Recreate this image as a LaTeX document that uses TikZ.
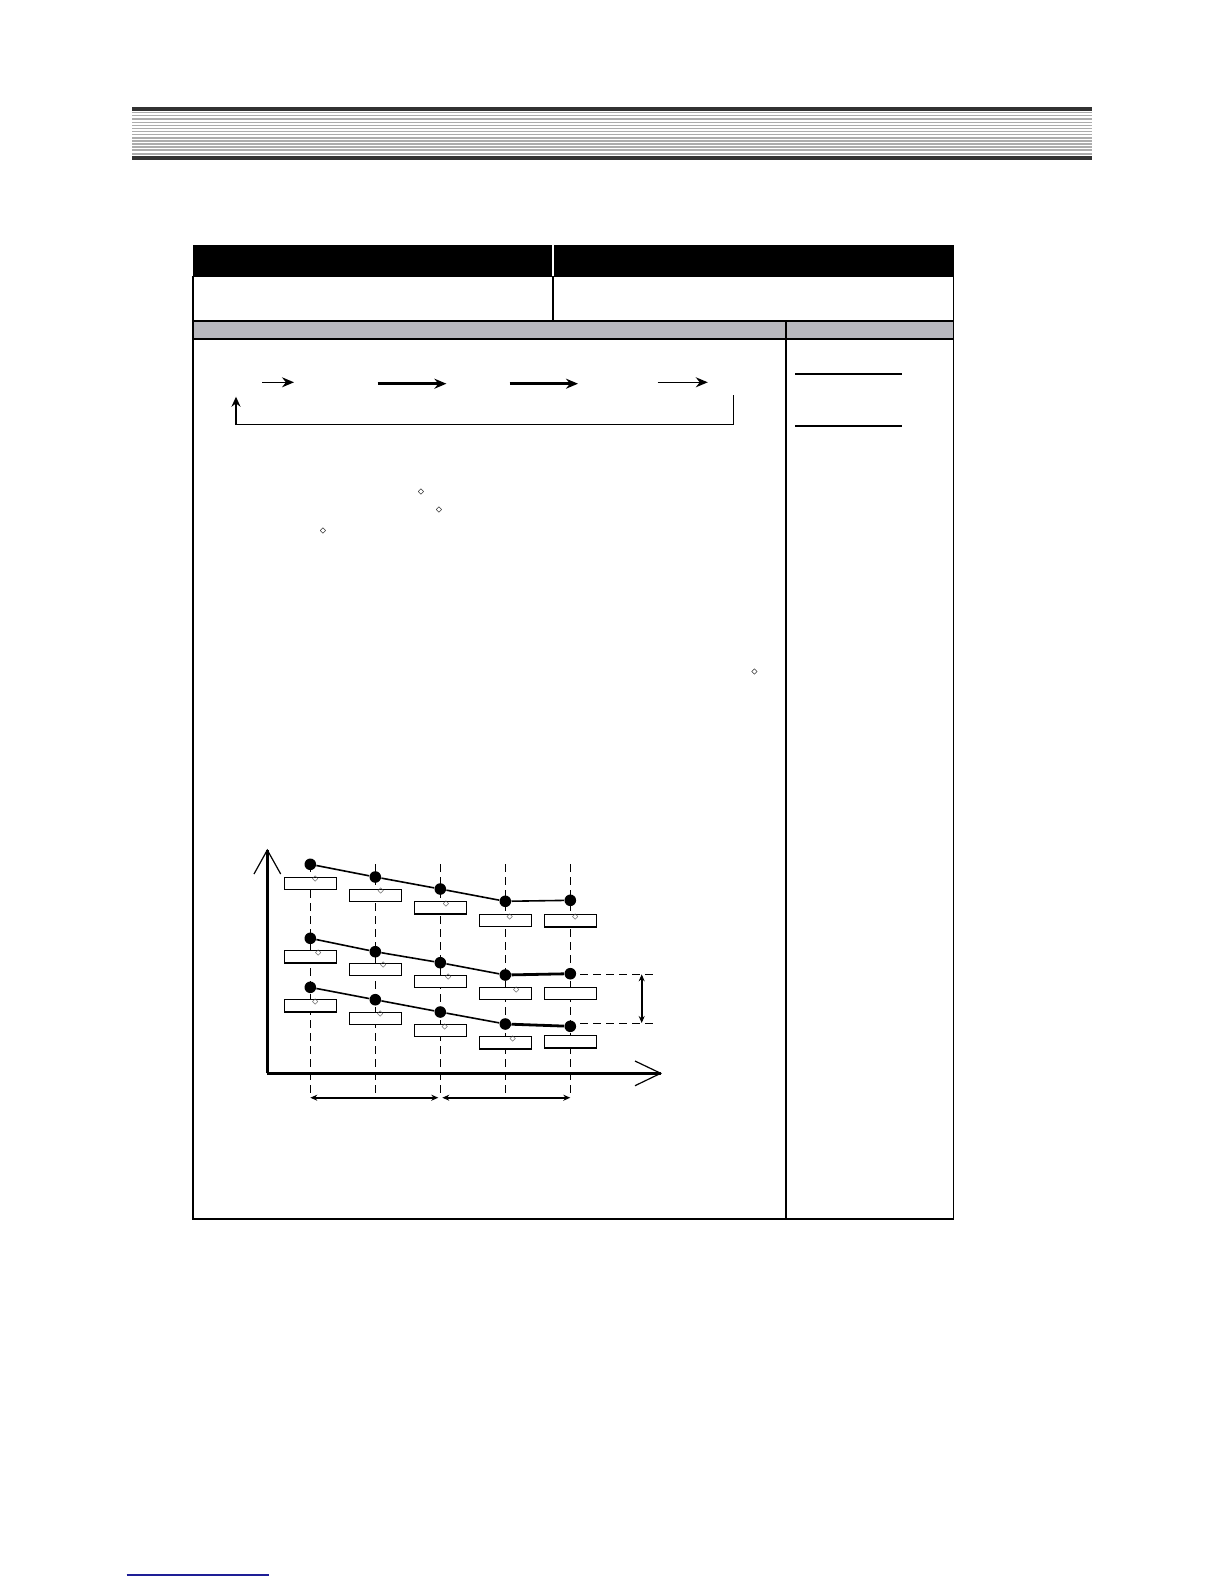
\documentclass[tikz,border=0pt]{standalone}
\usepackage{amsmath}
\usepackage{amssymb}
\usetikzlibrary{arrows.meta}
\definecolor{bardark}{RGB}{50,50,50}
\definecolor{barline}{RGB}{172,172,172}
\definecolor{rowgray}{RGB}{184,184,190}
\definecolor{linkblue}{RGB}{30,30,150}

\begin{document}
\begin{tikzpicture}[x=0.5bp,y=-0.5bp]
            \tikzstyle{every node}+=[inner sep=0pt]
            \tikzstyle{dot}=[circle,fill=black,minimum size=5.8bp]
            \tikzstyle{valbox}=[draw=black,fill=white,line width=0.55bp,minimum width=26.2bp,minimum height=6.2bp]
            \tikzstyle{degmark}=[font=\fontsize{4}{4}\selectfont]
            \tikzstyle{boxmark}=[font=\fontsize{2.6}{3}\selectfont,text=black!70]
            \tikzstyle{grid}=[line width=0.5bp,dash pattern=on 4bp off 2.5bp]
            \tikzstyle{tip}=[-{Stealth[length=6bp,width=5bp]}]
            \tikzstyle{dimline}=[line width=0.8bp,{Stealth[length=3.5bp,width=3bp]}-{Stealth[length=3.5bp,width=3bp]}]
            \useasboundingbox (0,0) rectangle (1224,1584);
            % page header bar
            \fill [bardark] (132,106.7) rectangle (1092,111);
            \draw [barline,line width=0.6bp] (132,112.7) -- (1092,112.7);
            \draw [barline,line width=0.6bp] (132,115.5) -- (1092,115.5);
            \draw [barline,line width=0.6bp] (132,119) -- (1092,119);
            \draw [barline,line width=0.6bp] (132,122.3) -- (1092,122.3);
            \draw [barline,line width=0.6bp] (132,125.3) -- (1092,125.3);
            \draw [barline,line width=0.6bp] (132,128.3) -- (1092,128.3);
            \draw [barline,line width=0.6bp] (132,131.7) -- (1092,131.7);
            \draw [barline,line width=0.6bp] (132,134.7) -- (1092,134.7);
            \draw [barline,line width=0.6bp] (132,138) -- (1092,138);
            \draw [barline,line width=0.6bp] (132,141) -- (1092,141);
            \draw [barline,line width=0.6bp] (132,144) -- (1092,144);
            \draw [barline,line width=0.6bp] (132,147) -- (1092,147);
            \draw [barline,line width=0.6bp] (132,150) -- (1092,150);
            \draw [barline,line width=0.6bp] (132,154) -- (1092,154);
            \fill [bardark] (132,155.7) rectangle (1092,160);
            % table
            \fill [black] (192.7,245) rectangle (953.5,276.5);
            \draw [white,line width=0.6bp] (553,245) -- (553,276.5);
            \draw [black,line width=0.9bp] (192.7,276.5) rectangle (953.5,321);
            \draw [black,line width=0.9bp] (553,276.5) -- (553,321);
            \fill [rowgray] (192.7,321) rectangle (953.5,339);
            \draw [black,line width=0.9bp] (192.7,321) rectangle (953.5,339);
            \draw [black,line width=0.9bp] (786,321) -- (786,339);
            \draw [black,line width=0.9bp] (192.7,339) rectangle (953.5,1219);
            \draw [black,line width=0.9bp] (786,339) -- (786,1219);
            % cycle of arrows
            \coordinate (a1s) at (262.3,382.3);
            \coordinate (a1e) at (294,382.3);
            \coordinate (a2s) at (377.5,383.7);
            \coordinate (a2e) at (446.4,383.7);
            \coordinate (a3s) at (509.5,383.7);
            \coordinate (a3e) at (578,383.7);
            \coordinate (a4s) at (657.6,382.3);
            \coordinate (a4e) at (707.8,382.3);
            \draw [black,line width=0.7bp,tip] (a1s) -- (a1e);
            \draw [black,line width=1.4bp,tip] (a2s) -- (a2e);
            \draw [black,line width=1.4bp,tip] (a3s) -- (a3e);
            \draw [black,line width=0.7bp,tip] (a4s) -- (a4e);
            \coordinate (ret1) at (733.4,395);
            \coordinate (ret2) at (733.4,424.3);
            \coordinate (ret3) at (236,424.3);
            \coordinate (ret4) at (236,396.7);
            \draw [black,line width=0.7bp,-{Stealth[length=5bp,width=4.5bp]}] (ret1) -- (ret2) -- (ret3) -- (ret4);
            % note column
            \draw [black,line width=0.8bp] (795,374) -- (902,374);
            \draw [black,line width=0.8bp] (795,426) -- (902,426);
            % degree marks in the text
            \draw (421,492) node [degmark] (t1) {$\diamond$};
            \draw (439,510) node [degmark] (t2) {$\diamond$};
            \draw (323,531) node [degmark] (t3) {$\diamond$};
            \draw (754.5,672) node [degmark] (t4) {$\diamond$};
            % chart grid
            \coordinate (g1t) at (310.3,864);
            \coordinate (g1b) at (310.3,1097.7);
            \coordinate (g2t) at (375.3,864);
            \coordinate (g2b) at (375.3,1097.7);
            \coordinate (g3t) at (440.3,864);
            \coordinate (g3b) at (440.3,1097.7);
            \coordinate (g4t) at (505.3,864);
            \coordinate (g4b) at (505.3,1097.7);
            \coordinate (g5t) at (570.3,864);
            \coordinate (g5b) at (570.3,1097.7);
            \draw [grid] (g1t) -- (g1b);
            \draw [grid] (g2t) -- (g2b);
            \draw [grid] (g3t) -- (g3b);
            \draw [grid] (g4t) -- (g4b);
            \draw [grid] (g5t) -- (g5b);
            \coordinate (h1a) at (580,974.3);
            \coordinate (h1b) at (658,974.3);
            \coordinate (h2a) at (580,1023);
            \coordinate (h2b) at (655,1023);
            \draw [grid] (h1a) -- (h1b);
            \draw [grid] (h2a) -- (h2b);
            % axes
            \coordinate (org) at (267.3,1073.3);
            \coordinate (ytop) at (267.3,850);
            \coordinate (xend) at (660.7,1073.3);
            \draw [black,line width=1.7bp] (org) -- (ytop);
            \draw [black,line width=1.7bp] (org) -- (xend);
            \draw [black,line width=0.6bp] (254,874) -- (ytop) -- (280.7,874);
            \draw [black,line width=0.6bp] (635,1061) -- (xend) -- (635,1085.7);
            % value boxes
            \node [valbox] (b11) at (310.3,883.5) {};
            \node [valbox] (b12) at (375.3,895.3) {};
            \node [valbox] (b13) at (440.3,907.8) {};
            \node [valbox] (b14) at (505.3,920.5) {};
            \node [valbox] (b15) at (570.3,920.8) {};
            \node [valbox] (b21) at (310.3,956.8) {};
            \node [valbox] (b22) at (375.3,969.5) {};
            \node [valbox] (b23) at (440.3,981.3) {};
            \node [valbox] (b24) at (505.3,993.3) {};
            \node [valbox] (b25) at (570.3,993.3) {};
            \node [valbox] (b31) at (310.3,1005.8) {};
            \node [valbox] (b32) at (375.3,1018.3) {};
            \node [valbox] (b33) at (440.3,1030.5) {};
            \node [valbox] (b34) at (505.3,1042.8) {};
            \node [valbox] (b35) at (570.3,1041.8) {};
            \draw (315.3,879.5) node [boxmark] (m11) {$\diamond$};
            \draw (380.7,891.5) node [boxmark] (m12) {$\diamond$};
            \draw (446,904) node [boxmark] (m13) {$\diamond$};
            \draw (509.7,917) node [boxmark] (m14) {$\diamond$};
            \draw (575.3,916.8) node [boxmark] (m15) {$\diamond$};
            \draw (318.3,953.5) node [boxmark] (m21) {$\diamond$};
            \draw (383.3,965.5) node [boxmark] (m22) {$\diamond$};
            \draw (448.3,977.5) node [boxmark] (m23) {$\diamond$};
            \draw (516.3,990.5) node [boxmark] (m24) {$\diamond$};
            \draw (315.3,1002.5) node [boxmark] (m31) {$\diamond$};
            \draw (380.3,1014.5) node [boxmark] (m32) {$\diamond$};
            \draw (444.7,1027) node [boxmark] (m33) {$\diamond$};
            \draw (512.7,1039.5) node [boxmark] (m34) {$\diamond$};
            % setpoint curves
            \node [dot] (d11) at (310.3,864.3) {};
            \node [dot] (d12) at (375.3,877) {};
            \node [dot] (d13) at (440.3,889) {};
            \node [dot] (d14) at (505.3,901.3) {};
            \node [dot] (d15) at (570.3,900.3) {};
            \node [dot] (d21) at (310.3,938.3) {};
            \node [dot] (d22) at (375.3,951.7) {};
            \node [dot] (d23) at (440.3,962.7) {};
            \node [dot] (d24) at (505.3,975) {};
            \node [dot] (d25) at (570.3,973.7) {};
            \node [dot] (d31) at (310.3,987.3) {};
            \node [dot] (d32) at (375.3,999.7) {};
            \node [dot] (d33) at (440.3,1012) {};
            \node [dot] (d34) at (505.3,1024) {};
            \node [dot] (d35) at (570.3,1026.3) {};
            \draw [black,line width=0.8bp] (d11) -- (d12) -- (d13) -- (d14) -- (d15);
            \draw [black,line width=0.8bp] (d21) -- (d22) -- (d23) -- (d24);
            \draw [black,line width=1.4bp] (d24) -- (d25);
            \draw [black,line width=0.8bp] (d31) -- (d32) -- (d33) -- (d34);
            \draw [black,line width=1.4bp] (d34) -- (d35);
            % dimensions
            \coordinate (v1) at (641.7,974.3);
            \coordinate (v2) at (641.7,1023);
            \draw [dimline] (v1) -- (v2);
            \draw [dimline,line width=1.2bp,shorten >=1bp] (g1b) -- (g3b);
            \draw [dimline,line width=1.2bp,shorten <=1bp] (g3b) -- (g5b);
            % footer rule
            \draw [linkblue,line width=1bp] (126.7,1575) -- (269,1575);
        \end{tikzpicture}
\end{document}
